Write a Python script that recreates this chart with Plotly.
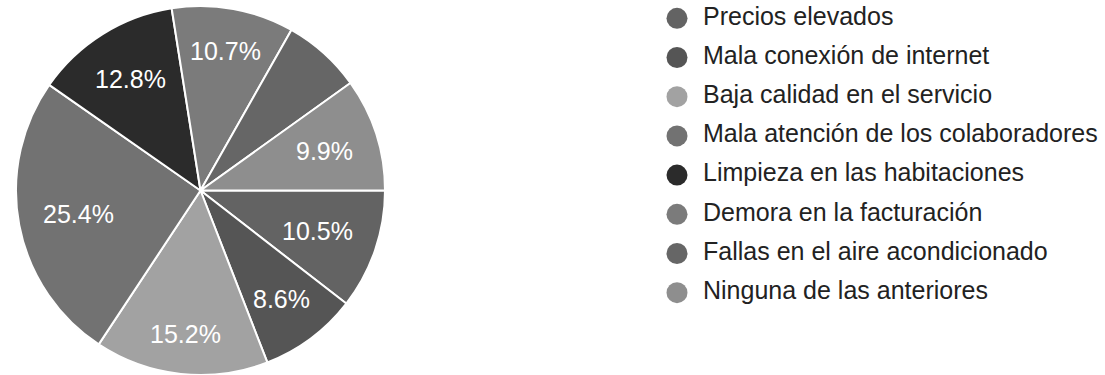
import math
import plotly.graph_objects as go

# Survey responses: share of each complaint (%)
labels = [
    "Precios elevados",
    "Mala conexión de internet",
    "Baja calidad en el servicio",
    "Mala atención de los colaboradores",
    "Limpieza en las habitaciones",
    "Demora en la facturación",
    "Fallas en el aire acondicionado",
    "Ninguna de las anteriores",
]
values = [10.5, 8.6, 15.2, 25.4, 12.8, 10.7, 6.9, 9.9]
colors = ["#636363", "#555555", "#a2a2a2", "#727272",
          "#2b2b2b", "#7b7b7b", "#666666", "#8e8e8e"]

W, H = 1105, 375
FONT = "Liberation Sans, Arial, sans-serif"
LABEL_SIZE = 25

# pie geometry (pixels)
CX, CY, R = 200.5, 190.5, 184.5
START_DEG = 90  # first slice starts at 3 o'clock, going clockwise

fig = go.Figure()

fig.add_trace(go.Pie(
    labels=labels,
    values=values,
    sort=False,
    direction="clockwise",
    rotation=START_DEG,
    marker=dict(colors=colors, line=dict(color="white", width=2)),
    textinfo="none",
    domain=dict(x=[(CX - R) / W, (CX + R) / W],
                y=[1 - (CY + R) / H, 1 - (CY - R) / H]),
    showlegend=False,
    hoverinfo="label+percent",
))

# percentage labels: placed along each slice's bisector so that the
# outer corner of the text box sits at a fixed radius
total = sum(values)
outer = 0.87 * R
cum = 0.0
for v in values:
    frac_mid = (cum + v / 2) / total
    cum += v
    if v < 7.5:  # too thin for a label
        continue
    txt = f"{v:.1f}%"
    ang = math.radians(START_DEG + 360 * frac_mid)
    ux, uy = math.sin(ang), math.cos(ang)  # uy positive = upward
    n_dig = sum(ch.isdigit() for ch in txt)
    tw = LABEL_SIZE * (0.556 * n_dig + 0.278 + 0.889)
    th = LABEL_SIZE * 0.72
    c = (math.copysign(tw / 2, ux), math.copysign(th / 2, uy))
    uc = ux * c[0] + uy * c[1]
    cc = c[0] ** 2 + c[1] ** 2
    d = -uc + math.sqrt(uc * uc - cc + outer * outer)
    px = CX + d * ux
    py = CY - d * uy
    fig.add_annotation(
        x=px / W, y=1 - py / H, xref="paper", yref="paper",
        text=txt, showarrow=False, xanchor="center", yanchor="middle",
        font=dict(family=FONT, size=LABEL_SIZE, color="white"),
    )

# legend column: one circle + label per category
LEG_DOT_X, LEG_TEXT_X = 677, 703
ROW_PX, FIRST_PX = 39.2, 18.3
idx = list(range(len(labels)))

fig.add_trace(go.Scatter(
    x=[LEG_DOT_X] * len(labels), y=idx,
    mode="markers",
    marker=dict(color=colors, size=21, symbol="circle", line=dict(width=0)),
    showlegend=False, hoverinfo="skip", cliponaxis=False,
))
fig.add_trace(go.Scatter(
    x=[LEG_TEXT_X] * len(labels), y=idx,
    mode="text",
    text=labels,
    textposition="middle right",
    textfont=dict(family=FONT, size=25, color="#222222"),
    showlegend=False, hoverinfo="skip", cliponaxis=False,
))

fig.update_layout(
    width=W, height=H,
    margin=dict(l=0, r=0, t=0, b=0),
    paper_bgcolor="white",
    plot_bgcolor="white",
    xaxis=dict(domain=[0, 1], range=[0, W], visible=False, fixedrange=True),
    yaxis=dict(range=[(H - FIRST_PX) / ROW_PX, -FIRST_PX / ROW_PX],
               visible=False, fixedrange=True),
)

fig.write_html("out.html")
